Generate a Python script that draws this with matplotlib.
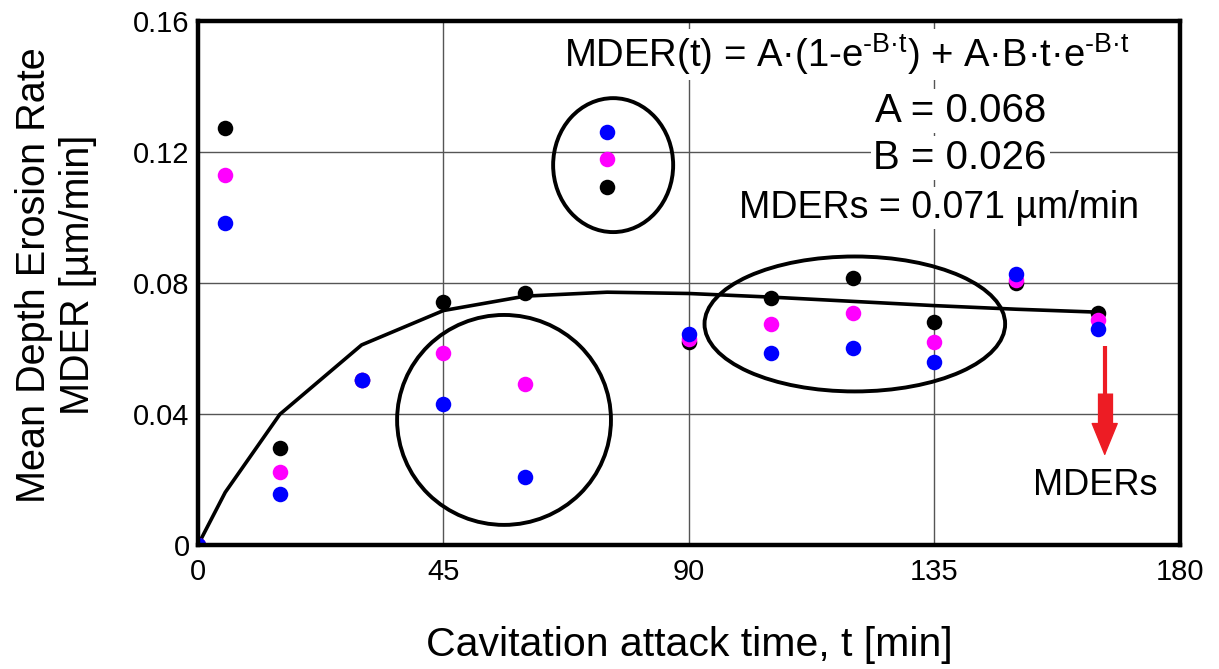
import matplotlib
matplotlib.use("Agg")
import matplotlib.pyplot as plt
from matplotlib.patches import Ellipse

plt.rcParams['font.family'] = ['Liberation Sans', 'DejaVu Sans']
plt.rcParams['mathtext.fontset'] = 'custom'
plt.rcParams['mathtext.rm'] = 'Liberation Sans'
plt.rcParams['mathtext.it'] = 'Liberation Sans'
plt.rcParams['mathtext.sf'] = 'Liberation Sans'

# ---- data ----
t_pts = [0, 5, 15, 30, 45, 60, 75, 90, 105, 120, 135, 150, 165]
mder_black = [0, 0.1273, 0.0296, 0.0504, 0.0742, 0.0770, 0.1093, 0.0620, 0.0754, 0.0815, 0.0681, 0.0800, 0.0708]
mder_magenta = [0, 0.1130, 0.0223, 0.0504, 0.0586, 0.0492, 0.1179, 0.0630, 0.0675, 0.0708, 0.0620, 0.0809, 0.0687]
mder_blue = [0, 0.0983, 0.0156, 0.0504, 0.0431, 0.0208, 0.1261, 0.0644, 0.0586, 0.0602, 0.0559, 0.0827, 0.0660]

t_fit = [0, 5, 15, 30, 45, 60, 75, 90, 105, 120, 135, 150, 165]
mder_fit = [0, 0.0161, 0.0399, 0.0611, 0.0716, 0.0760, 0.0772, 0.0768, 0.0757, 0.0744, 0.0731, 0.0720, 0.0711]

x_ticks = [0, 45, 90, 135, 180]
y_ticks = [0, 0.04, 0.08, 0.12, 0.16]
y_tick_labels = ["0", "0.04", "0.08", "0.12", "0.16"]

fig = plt.figure(figsize=(12.19, 6.69), dpi=100)
ax = fig.add_axes([0.1624, 0.1853, 0.8056, 0.7833])

ax.set_xlim(0, 180)
ax.set_ylim(0, 0.16)
ax.set_xticks(x_ticks)
ax.set_xticklabels([str(v) for v in x_ticks])
ax.set_yticks(y_ticks)
ax.set_yticklabels(y_tick_labels)
ax.tick_params(axis='y', length=0, labelsize=21, pad=6)
ax.tick_params(axis='x', length=0, labelsize=21, pad=9)
ax.grid(True, color='#555555', linewidth=1.0, zorder=0)
ax.set_axisbelow(True)
for s in ax.spines.values():
    s.set_linewidth(3.2)
    s.set_zorder(10)

ax.plot(t_fit, mder_fit, color='black', linewidth=2.6, zorder=3)

ms = 125
ax.scatter(t_pts, mder_black, s=ms, color='black', zorder=4, linewidths=0)
ax.scatter(t_pts, mder_magenta, s=ms, color='#ff00ff', zorder=5, linewidths=0)
ax.scatter(t_pts, mder_blue, s=ms, color='#0000ff', zorder=6, linewidths=0)

for (cx, cy, w, h) in [(76.1, 0.116, 22.0, 0.0409), (56.1, 0.0382, 39.2, 0.0641), (120.4, 0.0675, 55.1, 0.0412)]:
    ax.add_patch(Ellipse((cx, cy), w, h, fill=False, edgecolor='black', linewidth=2.8, zorder=7))

box = dict(facecolor='white', edgecolor='none', pad=2)
sup = "$^{\\mathrm{\u2010B\u00b7t}}$"
ax.text(119, 0.1498, "MDER(t) = A\u00b7(1-e" + sup + ") + A\u00b7B\u00b7t\u00b7e" + sup,
        ha='center', va='center', fontsize=27.5, bbox=box, zorder=8)
ax.text(139.7, 0.1325, "A = 0.068", ha='center', va='center', fontsize=29, bbox=box, zorder=8)
ax.text(139.7, 0.1182, "B = 0.026", ha='center', va='center', fontsize=29, bbox=box, zorder=8)
ax.text(135.8, 0.1029, "MDERs = 0.071 \u00b5m/min", ha='center', va='center', fontsize=27, bbox=box, zorder=8)

# red arrow pointing at the steady-state value
red = '#ed1c24'
ax.plot([166.2, 166.2], [0.0608, 0.0462], color=red, linewidth=3.0, solid_capstyle='butt', zorder=9)
ax.plot([166.2, 166.2], [0.0464, 0.0366], color=red, linewidth=11, solid_capstyle='butt', zorder=9)
ax.annotate('', xy=(166.2, 0.0272), xytext=(166.2, 0.0368),
            arrowprops=dict(arrowstyle='-|>,head_width=0.45,head_length=1.1', color=red,
                            linewidth=1, mutation_scale=20, shrinkA=0, shrinkB=0), zorder=9)
ax.text(164.5, 0.0183, "MDERs", ha='center', va='center', fontsize=26, zorder=9)

ax.set_xlabel("Cavitation attack time, t [min]", fontsize=29.5, labelpad=29)
ax.set_ylabel("Mean Depth Erosion Rate\nMDER [\u00b5m/min]", fontsize=28.5, linespacing=1.2)
ax.yaxis.set_label_coords(-0.103, 0.515)

fig.savefig("out.png", dpi=100)
